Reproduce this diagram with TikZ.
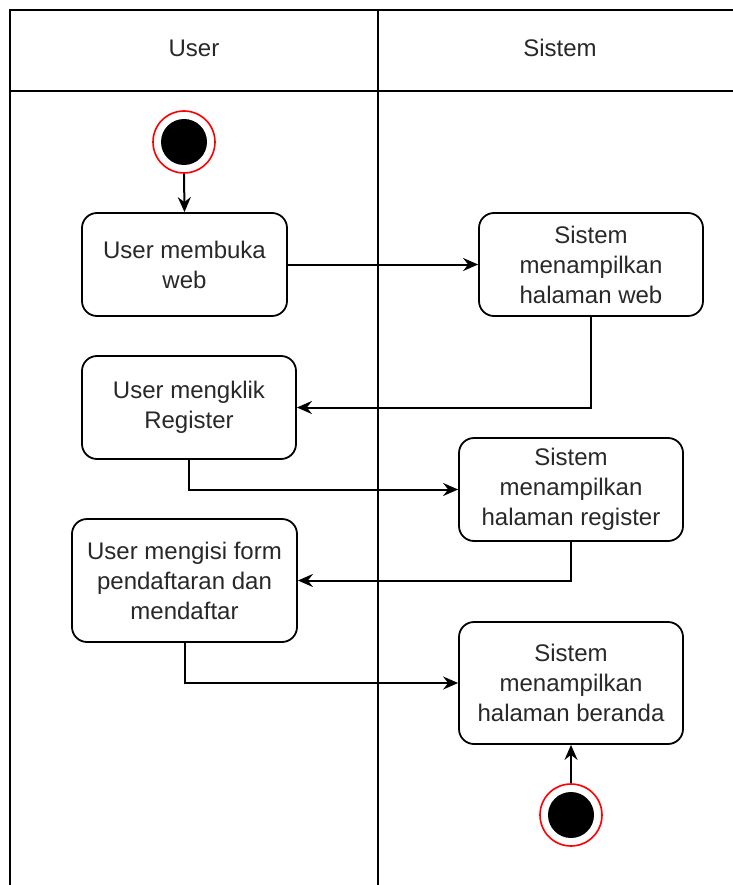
\documentclass[tikz,border=0pt]{standalone}
\usepackage{fontspec}
\setmainfont{Liberation Sans}
\usetikzlibrary{arrows.meta,positioning}
\definecolor{txt}{RGB}{40,40,40}
\tikzset{
  lane/.style={line width=2pt, draw=black},
  actbox/.style={draw=black, line width=1.8pt, rounded corners=15pt, fill=white,
    align=center, font=\fontsize{24}{30}\selectfont, text=txt, inner sep=0pt},
  flow/.style={line width=2pt, -{Stealth[length=15pt,width=13pt,inset=5pt]}},
  ring/.style={circle, draw=red, line width=1.6pt, fill=white, minimum size=62pt, inner sep=0pt},
  dot/.style={circle, fill=black, minimum size=46pt, inner sep=0pt},
  hdr/.style={font=\fontsize{24}{30}\selectfont, text=txt}
}
\begin{document}
\begin{tikzpicture}[x=1pt,y=-1pt]
\useasboundingbox (0,0) rectangle (732,885);
% lanes
\draw[lane] (10,885) -- (10,10) -- (735,10);
\draw[lane] (378,10) -- (378,885);
\draw[lane] (10,91) -- (735,91);
\node[hdr] (hu) at (194,48) {User};
\node[hdr] (hs) at (560,48) {Sistem};
% start
\node[ring] (s0) at (184,142) {};
\node[dot] (s0d) at (184,142) {};
% boxes
\node[actbox, minimum width=205pt, minimum height=103pt] (b1) at (184.5,264.5) {User membuka\\web};
\node[actbox, minimum width=224pt, minimum height=103pt] (b2) at (591,264.5) {Sistem\\menampilkan\\halaman web};
\node[actbox, minimum width=214pt, minimum height=103pt] (b3) at (189,407.5) {User mengklik\\Register};
\node[actbox, minimum width=224pt, minimum height=103pt] (b4) at (571,489.5) {Sistem\\menampilkan\\halaman register};
\node[actbox, minimum width=225pt, minimum height=123pt] (b5) at (184.5,580.5) {User mengisi form\\pendaftaran dan\\mendaftar};
\node[actbox, minimum width=224pt, minimum height=122pt] (b6) at (571,683) {Sistem\\menampilkan\\halaman beranda};
% end
\node[ring] (e0) at (571,815) {};
\node[dot] (e0d) at (571,815) {};
% flows
\draw[flow] (s0.south) -- (b1.north);
\draw[flow] (b1.east) -- (b2.west);
\draw[flow] (b2.south) |- (b3.east);
\draw[flow] (b3.south) |- (b4.west);
\draw[flow] (b4.south) |- (b5.east);
\draw[flow] (b5.south) |- (b6.west);
\draw[flow] (e0.north) -- (b6.south);
\end{tikzpicture}
\end{document}
